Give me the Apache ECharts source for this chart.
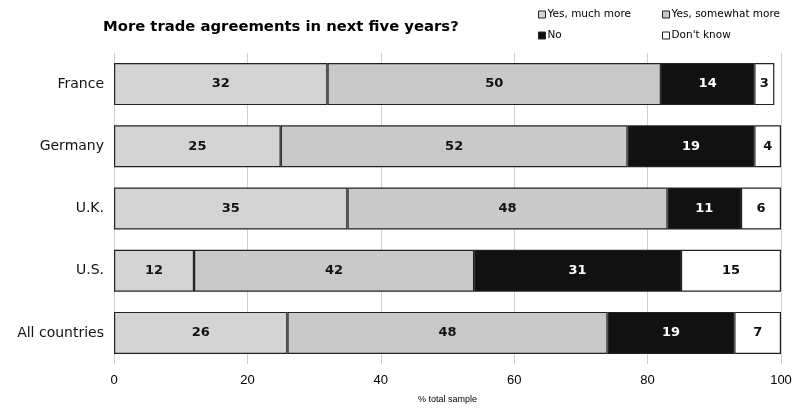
<!DOCTYPE html>
<html>
<head>
<meta charset="utf-8">
<script src="https://cdn.jsdelivr.net/npm/echarts@6/dist/echarts.min.js"></script>
<style>html,body{margin:0;padding:0;background:#fff}#c{width:798px;height:409px}</style>
</head>
<body>
<div id="c"></div>
<script>
const categories = ["France", "Germany", "U.K.", "U.S.", "All countries"];
const seriesNames = ["Yes, much more", "Yes, somewhat more", "No", "Don't know"];
const yesMuchMore = [32, 25, 35, 12, 26];
const yesSomewhatMore = [50, 52, 48, 42, 48];
const no = [14, 19, 11, 31, 19];
const dontKnow = [3, 4, 6, 15, 7];
const xTicks = [0, 20, 40, 60, 80, 100];

const values = [yesMuchMore, yesSomewhatMore, no, dontKnow];
const colors = ["#d4d4d4", "#c9c9c9", "#111111", "#ffffff"];
const labelColors = ["#111", "#111", "#fff", "#111"];

const chart = echarts.init(document.getElementById('c'), null, {renderer: 'canvas'});

const legendPos = [[538, 9], [662, 9], [538, 30], [662, 30]];

const option = {
  animation: false,
  backgroundColor: '#fff',
  title: {
    text: 'More trade agreements in next five years?',
    left: 103, top: 20, padding: 0,
    textStyle: {fontFamily: 'DejaVu Sans', fontSize: 14.8, fontWeight: 'bold', color: '#000'}
  },
  legend: seriesNames.map((n, i) => ({
    data: [n],
    left: legendPos[i][0], top: legendPos[i][1],
    icon: 'rect', itemWidth: 7, itemHeight: 7, itemGap: 4,
    padding: 0,
    selectedMode: false,
    textStyle: {fontFamily: 'DejaVu Sans', fontSize: 10.5, color: '#000', padding: [0, 0, 0, -3]},
    itemStyle: {borderColor: '#222', borderWidth: 1}
  })),
  grid: {left: 114, right: 17, top: 53, bottom: 45},
  xAxis: {
    type: 'value', min: 0, max: 100, interval: 20,
    axisLine: {show: false}, axisTick: {show: false},
    splitLine: {show: true, lineStyle: {color: '#cfcfcf', width: 1}},
    axisLabel: {
      margin: 10, fontFamily: 'Liberation Sans Narrow, Liberation Sans', fontSize: 13, color: '#000',
      formatter: v => xTicks.includes(v) ? String(v) : ''
    },
    name: '% total sample', nameLocation: 'middle', nameGap: 31,
    nameTextStyle: {fontFamily: 'Liberation Sans Narrow, Liberation Sans', fontSize: 9, color: '#000'}
  },
  yAxis: {
    type: 'category', data: categories, inverse: true,
    axisLine: {show: false}, axisTick: {show: false},
    axisLabel: {margin: 10, fontFamily: 'DejaVu Sans', fontSize: 14, color: '#111'}
  },
  series: seriesNames.map((n, i) => ({
    name: n, type: 'bar', stack: 'total', barWidth: 42,
    data: values[i],
    itemStyle: {color: colors[i], borderColor: '#222', borderWidth: 1.2},
    label: {
      show: true, position: 'inside',
      fontFamily: 'DejaVu Sans', fontSize: 13, fontWeight: 'bold', color: labelColors[i]
    }
  }))
};
chart.setOption(option);
</script>
</body>
</html>
